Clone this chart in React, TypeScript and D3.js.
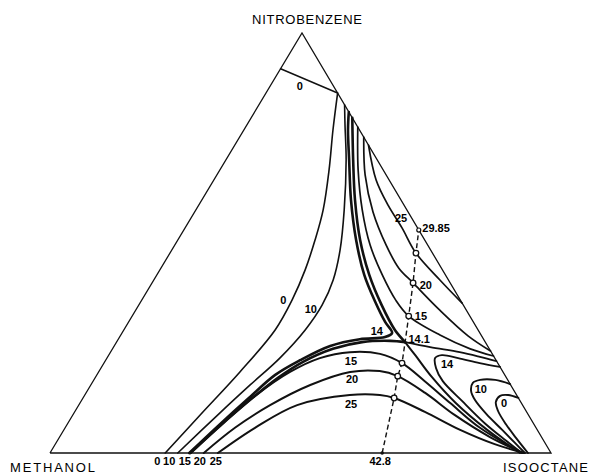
import * as d3 from "d3";

const width = 590;
const height = 475;

// triangle corners on screen
const LEFT = { x: 50, y: 453 }; // methanol
const RIGHT = { x: 551, y: 453 }; // isooctane
const TOP = { x: 302, y: 33 }; // nitrobenzene

// every point is [isooctane %, nitrobenzene %], methanol is the rest
const topZero = [[0, 91.5], [14.3, 85.7]];

const line0 = [
  [23.0, 0], [25.4, 9.0], [28.2, 19.3], [30.2, 29.3], [30.0, 36.4], [29.0, 43.6],
  [27.4, 50.7], [25.4, 57.9], [21.8, 67.4], [17.8, 76.9], [14.3, 85.7],
];
const line10 = [
  [25.5, 0], [29.1, 9.5], [31.8, 16.2], [34.5, 22.6], [36.2, 29.3], [36.6, 35.2],
  [35.8, 41.2], [33.6, 48.3], [29.6, 57.9], [24.0, 69.8], [19.6, 78.1], [17.1, 82.9],
];
const line14 = [
  [27.8, 0], [30.4, 6.7], [33.1, 13.1], [35.6, 18.6], [38.8, 22.1], [43.1, 25.5],
  [48.2, 27.1], [53.0, 27.6], [53.9, 28.6], [51.2, 31.2], [46.8, 36.0], [41.4, 42.4],
  [35.6, 50.7], [29.8, 60.2], [24.6, 69.8], [20.8, 76.9], [18.8, 81.2],
];
// the 14.1 contour crosses itself at the saddle
const saddleUp = [
  [20.2, 79.8], [25.4, 69.8], [30.6, 60.2], [36.4, 50.7], [42.4, 42.4], [48.5, 35.2],
  [54.1, 29.3], [57.6, 26.4],
];
const saddleDown = [[57.6, 26.4], [61.4, 23.1], [67.1, 18.1], [75.0, 11.9], [84.5, 5.5], [93.8, 0]];
const saddleLeft = [
  [28.0, 0], [30.7, 6.5], [33.7, 12.9], [36.5, 17.9], [39.6, 21.7], [44.0, 24.8],
  [49.0, 26.4], [54.5, 26.7], [57.6, 26.4],
];
const saddleRight = [[57.6, 26.4], [63.2, 25.2], [69.7, 24.0], [74.3, 22.9], [78.1, 21.9]];

const upper15 = [
  [22.4, 77.6], [27.6, 67.4], [33.2, 57.9], [39.0, 49.5], [45.0, 42.4], [50.7, 36.4],
  [55.2, 32.6], [63.7, 28.1], [71.4, 24.8], [76.9, 23.1],
];
const upper20 = [
  [24.8, 75.2], [29.6, 66.2], [35.6, 57.4], [42.2, 49.5], [47.5, 44.0], [52.1, 40.5],
  [60.7, 34.0], [69.4, 27.9], [75.7, 24.3],
];
const upper25 = [
  [26.7, 73.3], [32.4, 65.0], [37.8, 59.0], [43.3, 53.6], [49.1, 47.6], [57.1, 41.2], [64.3, 35.7],
];
const lower15 = [
  [28.1, 0], [30.9, 6.9], [34.1, 13.6], [38.2, 19.3], [42.5, 22.6], [47.8, 24.0],
  [54.0, 23.6], [59.5, 21.4], [66.2, 17.1], [73.9, 11.9], [82.8, 6.0], [94.2, 0],
];
const lower20 = [
  [30.7, 0], [33.9, 6.0], [38.2, 11.4], [43.8, 16.2], [50.2, 19.3], [56.0, 19.5],
  [60.2, 18.3], [67.7, 14.3], [76.3, 9.0], [85.9, 3.8], [94.4, 0],
];
const lower25 = [
  [33.5, 0], [37.9, 6.0], [43.6, 11.4], [52.9, 13.8], [58.9, 13.8], [62.1, 13.1],
  [69.9, 9.8], [79.1, 5.5], [87.7, 2.1], [94.6, 0],
];
const loop14 = [
  [79.5, 20.5], [75.0, 21.4], [70.1, 22.6], [66.5, 23.3], [65.5, 22.6], [66.9, 20.2],
  [69.8, 17.1], [76.0, 12.4], [83.2, 7.1], [89.3, 3.1], [94.2, 0],
];
const loop10 = [
  [83.6, 16.4], [80.1, 17.4], [77.1, 17.4], [76.0, 16.7], [76.6, 14.8], [78.5, 12.6],
  [82.4, 9.3], [87.5, 5.5], [91.6, 2.4], [94.8, 0],
];
const loop0 = [
  [86.9, 13.1], [84.5, 13.8], [83.0, 13.6], [82.9, 12.1], [84.4, 10.0], [87.5, 6.9],
  [91.2, 3.6], [95.4, 0],
];

// dashed path from the base (42.8) to the right side (29.85)
const ridge = [
  [66.3, 0], [62.1, 13.1], [60.2, 18.3], [59.5, 21.4], [57.6, 26.4], [55.2, 32.6],
  [52.1, 40.5], [49.1, 47.6], [46.9, 53.1],
];
const ridgeCircles = [1, 2, 3, 5, 6, 7];

const baseLabels = ["0", "10", "15", "20", "25", "42.8"];
const baseLabelAt = [21.4, 23.8, 26.9, 29.9, 33.1, 65.9];

const curveLabels = [
  { text: "0", at: [6.4, 86.4] },
  { text: "0", at: [28.7, 35.5] },
  { text: "10", at: [35.3, 33.3] },
  { text: "14", at: [51.1, 28.1] },
  { text: "15", at: [49.5, 21.0] },
  { text: "20", at: [51.9, 16.7] },
  { text: "25", at: [54.7, 10.7] },
  { text: "14.1", at: [60.5, 26.2] },
  { text: "15", at: [58.1, 31.7] },
  { text: "20", at: [55.4, 39.0] },
  { text: "25", at: [42.4, 55.0] },
  { text: "29.85", at: [50.6, 52.6] },
  { text: "14", at: [69.1, 20.2] },
  { text: "10", at: [78.8, 14.3] },
  { text: "0", at: [85.1, 11.0] },
];

const contours = [
  { pts: topZero, w: 1.5, smooth: false },
  { pts: line0, w: 1.6 },
  { pts: line10, w: 1.6 },
  { pts: line14, w: 2.6 },
  { pts: saddleUp, w: 2.6 },
  { pts: saddleLeft, w: 2.6 },
  { pts: saddleDown, w: 2.0 },
  { pts: saddleRight, w: 1.8 },
  { pts: upper15, w: 1.7 },
  { pts: upper20, w: 1.7 },
  { pts: upper25, w: 1.7 },
  { pts: lower15, w: 2.0 },
  { pts: lower20, w: 2.0 },
  { pts: lower25, w: 2.0 },
  { pts: loop14, w: 1.9 },
  { pts: loop10, w: 1.9 },
  { pts: loop0, w: 1.9 },
];

const xs = d3.scaleLinear().domain([0, 1]).range([LEFT.x, RIGHT.x]);
const ys = d3.scaleLinear().domain([0, 1]).range([LEFT.y, TOP.y]);
const apexU = (TOP.x - LEFT.x) / (RIGHT.x - LEFT.x);

const px = (d: number[]) => xs(d[0] / 100 + (apexU * d[1]) / 100);
const py = (d: number[]) => ys(d[1] / 100);

const smoothLine = d3.line<number[]>().x(px).y(py).curve(d3.curveCatmullRom.alpha(0.5));
const straightLine = d3.line<number[]>().x(px).y(py);

const numFont = { fontFamily: "Liberation Sans", fontWeight: 700, fontSize: 11 };
const nameFont = { fontFamily: "Liberation Sans", fontSize: 13 };

export default function App() {
  const frame = [[0, 0], [100, 0], [0, 100], [0, 0]];
  return (
    <svg width={width} height={height} style={{ position: "absolute", left: 0, top: 0 }}>
      <rect width={width} height={height} fill="#fff" />
      <path d={straightLine(frame) ?? ""} fill="none" stroke="#111" strokeWidth={1.3} />

      {contours.map((c, i) => (
        <path
          key={i}
          d={(c.smooth === false ? straightLine : smoothLine)(c.pts) ?? ""}
          fill="none"
          stroke="#111"
          strokeWidth={c.w}
          strokeLinecap="round"
        />
      ))}

      <path d={straightLine(ridge) ?? ""} fill="none" stroke="#111" strokeWidth={1.4} strokeDasharray="5 3" />
      {ridgeCircles.map((k) => (
        <circle key={k} cx={px(ridge[k])} cy={py(ridge[k])} r={2.8} fill="#fff" stroke="#111" strokeWidth={1.3} />
      ))}
      <circle cx={px(ridge[ridge.length - 1])} cy={py(ridge[ridge.length - 1])} r={2} fill="#fff" stroke="#111" strokeWidth={1.2} />
      <circle cx={px(ridge[0])} cy={py(ridge[0])} r={1.8} fill="#111" />

      {baseLabels.map((t, i) => (
        <text key={i} x={px([baseLabelAt[i], 0])} y={LEFT.y + 12} textAnchor="middle" {...numFont}>
          {t}
        </text>
      ))}
      {curveLabels.map((l, i) => (
        <text key={i} x={px(l.at)} y={py(l.at)} textAnchor="middle" {...numFont}>
          {l.text}
        </text>
      ))}

      <text x={252} y={24} textLength={110} lengthAdjust="spacing" {...nameFont}>NITROBENZENE</text>
      <text x={10} y={472} textLength={85} lengthAdjust="spacing" {...nameFont}>METHANOL</text>
      <text x={503} y={472} textLength={85} lengthAdjust="spacing" {...nameFont}>ISOOCTANE</text>
    </svg>
  );
}
